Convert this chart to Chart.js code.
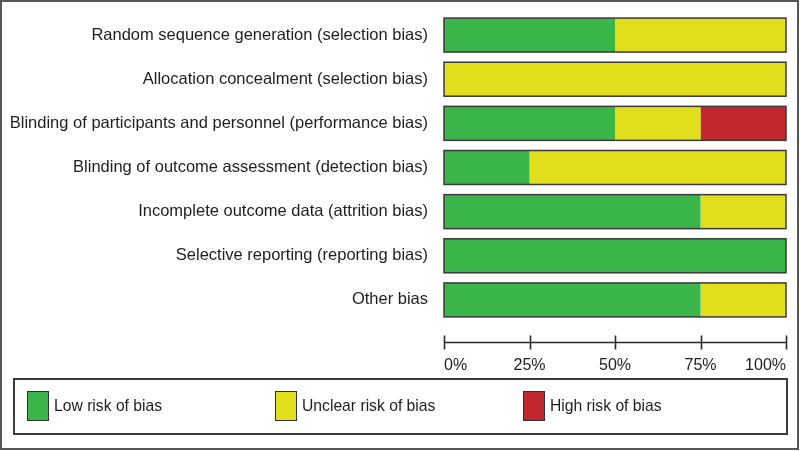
<!DOCTYPE html>
<html>
<head>
<meta charset="utf-8">
<script src="https://cdn.jsdelivr.net/npm/chart.js@4/dist/chart.umd.min.js"></script>
<style>
  html, body { margin: 0; padding: 0; background: #fff; }
  #wrap { position: relative; width: 800px; height: 451px; }
  #frame { position: absolute; left: 0; top: 0; width: 799px; height: 450px; box-sizing: border-box; border: 2px solid #555; pointer-events: none; }
  #legend { position: absolute; left: 13px; top: 378px; width: 775px; height: 57px; box-sizing: border-box; border: 2px solid #3a3a3a; font-family: "Liberation Sans", Arial, sans-serif; font-size: 15.7px; color: #1e1e1e; }
  .item { position: absolute; top: 11px; display: flex; align-items: center; height: 30px; }
  .sw { width: 20px; height: 28px; border: 1px solid #333; margin-right: 5px; }
</style>
</head>
<body>
<div id="wrap">
  <canvas id="chart" width="800" height="451"></canvas>
  <div id="legend"></div>
  <div id="frame"></div>
</div>
<script>
const categories = [
  "Random sequence generation (selection bias)",
  "Allocation concealment (selection bias)",
  "Blinding of participants and personnel (performance bias)",
  "Blinding of outcome assessment (detection bias)",
  "Incomplete outcome data (attrition bias)",
  "Selective reporting (reporting bias)",
  "Other bias"
];
const lowRisk     = [50, 0, 50, 25, 75, 100, 75];
const unclearRisk = [50, 100, 25, 75, 25, 0, 25];
const highRisk    = [0, 0, 25, 0, 0, 0, 0];
const tickValues = [0, 25, 50, 75, 100];
const tickLabels = ["0%", "25%", "50%", "75%", "100%"];
const seriesNames = ["Low risk of bias", "Unclear risk of bias", "High risk of bias"];
const seriesColors = ["#39b54a", "#e1df1b", "#c1272d"];

const font = "'Liberation Sans', Arial, sans-serif";

// outline each bar and draw the percent axis under the plot
const outlinePlugin = {
  id: 'outlineAxis',
  afterDatasetsDraw(chart) {
    const ctx = chart.ctx;
    const xs = chart.scales.x;
    const meta = chart.getDatasetMeta(0);
    ctx.save();
    ctx.strokeStyle = '#3a3a3a';
    ctx.lineWidth = 1.5;
    meta.data.forEach((bar) => {
      const x0 = xs.getPixelForValue(0);
      const x1 = xs.getPixelForValue(100);
      ctx.strokeRect(x0, bar.y - bar.height / 2, x1 - x0, bar.height);
    });
    // axis
    const y = Math.round(chart.chartArea.bottom + 20) + 0.5;
    ctx.strokeStyle = '#2a2a2a';
    ctx.lineWidth = 1.6;
    ctx.beginPath();
    ctx.moveTo(xs.getPixelForValue(0), y);
    ctx.lineTo(xs.getPixelForValue(100), y);
    tickValues.forEach((v) => {
      const px = Math.round(xs.getPixelForValue(v)) + 0.5;
      ctx.moveTo(px, y - 7);
      ctx.lineTo(px, y + 7);
    });
    ctx.stroke();
    ctx.fillStyle = '#1e1e1e';
    ctx.font = "16px " + font;
    ctx.textBaseline = 'alphabetic';
    tickValues.forEach((v, i) => {
      const px = xs.getPixelForValue(v);
      ctx.textAlign = i === 0 ? 'left' : (i === tickValues.length - 1 ? 'right' : 'center');
      ctx.fillText(tickLabels[i], px, y + 27);
    });
    ctx.restore();
  }
};

const chart = new Chart(document.getElementById('chart'), {
  type: 'bar',
  data: {
    labels: categories,
    datasets: [
      { label: seriesNames[0], data: lowRisk, backgroundColor: seriesColors[0] },
      { label: seriesNames[1], data: unclearRisk, backgroundColor: seriesColors[1] },
      { label: seriesNames[2], data: highRisk, backgroundColor: seriesColors[2] }
    ]
  },
  options: {
    indexAxis: 'y',
    responsive: false,
    animation: false,
    layout: { padding: { top: 13, bottom: 129, right: 14, left: 0 } },
    datasets: { bar: { barPercentage: 0.77, categoryPercentage: 1, borderWidth: 0 } },
    plugins: { legend: { display: false }, tooltip: { enabled: false } },
    scales: {
      x: { display: false, stacked: true, min: 0, max: 100 },
      y: {
        stacked: true,
        grid: { display: false, drawTicks: false },
        border: { display: false },
        ticks: { color: '#1e1e1e', padding: 16, font: { family: font, size: 16.5 } },
        afterFit(scale) {
          scale.width = 444;
          scale.paddingTop = 0;
          scale.paddingBottom = 0;
        }
      }
    }
  },
  plugins: [outlinePlugin]
});

// legend boxes
const legend = document.getElementById('legend');
const legendX = [12, 260, 508];
seriesNames.forEach((name, i) => {
  const d = document.createElement('div');
  d.className = 'item';
  d.style.left = legendX[i] + 'px';
  d.innerHTML = `<span class="sw" style="background:${seriesColors[i]}"></span><span>${name}</span>`;
  legend.appendChild(d);
});
</script>
</body>
</html>
